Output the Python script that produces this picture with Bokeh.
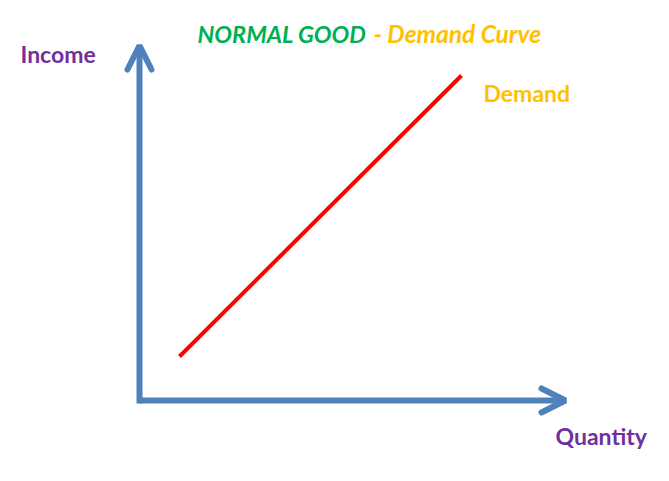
from bokeh.plotting import figure
from bokeh.models import Range1d, Arrow, OpenHead
from bokeh.core.properties import value
from bokeh.embed import file_html
from bokeh.resources import INLINE

# Data: demand curve of a normal good (quantity rises with income)
quantity = [40, 322]
income = [44, 325]

# Axis extents (arrow tips)
x_axis_end = 426
y_axis_end = 355

title_left = "NORMAL GOOD"
title_right = "- Demand Curve"
x_label = "Quantity"
y_label = "Income"
curve_label = "Demand"

FONT = "Lato"

p = figure(width=653, height=465, output_backend="svg", toolbar_location=None,
           x_range=Range1d(-139, 514), y_range=Range1d(-65, 400),
           min_border=0)
p.axis.visible = False
p.grid.visible = False
p.outline_line_color = None
p.background_fill_color = "white"
p.border_fill_color = "white"

blue = "#4F81BD"
# axes as arrows
p.add_layout(Arrow(x_start=0, y_start=-3, x_end=0, y_end=y_axis_end,
                   line_color=blue, line_width=6,
                   end=OpenHead(size=24, line_color=blue, line_width=6, line_cap="round")))
p.add_layout(Arrow(x_start=0, y_start=0, x_end=x_axis_end, y_end=0,
                   line_color=blue, line_width=6,
                   end=OpenHead(size=24, line_color=blue, line_width=6, line_cap="round")))

# demand curve
p.line(quantity, income, line_color="#FF0000", line_width=4)

def label(x, y, txt, color, style="bold", size="23px"):
    p.text(x=[x], y=[y], text=[txt], text_color=color, text_font=value(FONT),
           text_font_size=size, text_font_style=style,
           text_baseline="alphabetic", text_align="left")

label(58, 367, title_left, "#00B050", "bold italic", "23.5px")
label(234, 367, title_right, "#FFC000", "bold italic", "24.5px")
label(-119, 347, y_label, "#7030A0")
label(344, 308, curve_label, "#FFC000")
label(416, -35, x_label, "#7030A0")

open("out.html", "w").write(file_html(p, INLINE))
